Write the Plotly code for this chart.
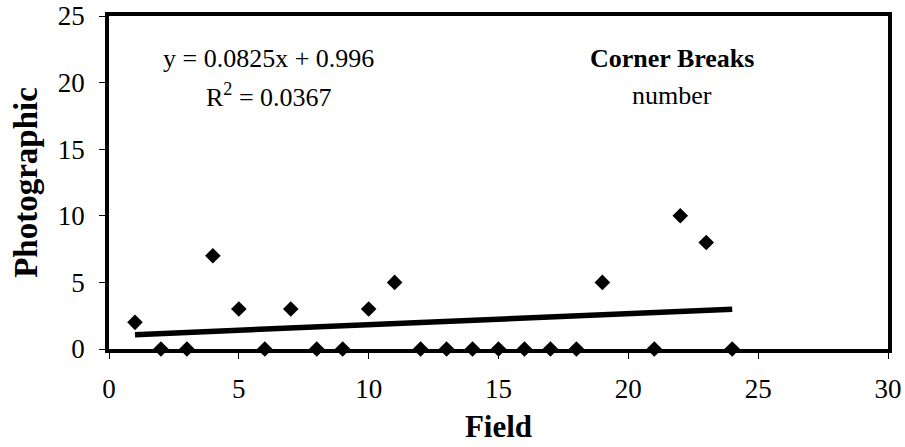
import numpy as np
import plotly.graph_objects as go

# Data
field = [1, 2, 3, 4, 5, 6, 7, 8, 9, 10, 11, 12, 13, 14, 15, 16, 17, 18, 19, 21, 22, 23, 24]
photographic = [2, 0, 0, 7, 3, 0, 3, 0, 0, 3, 5, 0, 0, 0, 0, 0, 0, 0, 5, 0, 10, 8, 0]

x_ticks = [0, 5, 10, 15, 20, 25, 30]
y_ticks = [0, 5, 10, 15, 20, 25]

eq_text = "y = 0.0825x + 0.996"
r2_text = "R<sup>2</sup> = 0.0367"
title_text = "<b>Corner Breaks</b>"
subtitle_text = "number"

# Linear trendline via least squares
slope, intercept = np.polyfit(field, photographic, 1)
trend_x = [min(field), max(field)]
trend_y = [slope * v + intercept for v in trend_x]

FONT = "Liberation Serif, Times New Roman, serif"

fig = go.Figure()
fig.add_trace(go.Scatter(
    x=trend_x, y=trend_y, mode="lines",
    line=dict(color="black", width=5.5),
    showlegend=False, hoverinfo="skip",
))
fig.add_trace(go.Scatter(
    x=field, y=photographic, mode="markers",
    marker=dict(symbol="diamond", size=12, color="black"),
    showlegend=False, cliponaxis=False,
))

fig.update_layout(
    width=905, height=447,
    margin=dict(l=109, r=17, t=16, b=98),
    paper_bgcolor="white", plot_bgcolor="white",
    font=dict(family=FONT, color="black", size=26),
    xaxis=dict(
        range=[0, 30], tickvals=x_ticks, ticktext=[str(v) for v in x_ticks],
        showgrid=False, zeroline=False, automargin=False,
        showline=True, linecolor="black", linewidth=3.5, mirror=True,
        ticks="outside", ticklen=6, tickwidth=1.2, tickcolor="black",
        ticklabelstandoff=7, ticklabeloverflow="allow",
        tickfont=dict(family=FONT, size=27),
        title=dict(text="<b>Field</b>", font=dict(family=FONT, size=31), standoff=13),
    ),
    yaxis=dict(
        range=[0, 25], tickvals=y_ticks, ticktext=[str(v) for v in y_ticks],
        showgrid=False, zeroline=False, automargin=False,
        showline=True, linecolor="black", linewidth=3.5, mirror=True,
        ticks="outside", ticklen=6, tickwidth=1.2, tickcolor="black",
        ticklabelstandoff=9, ticklabeloverflow="allow",
        tickfont=dict(family=FONT, size=27),
        title=dict(text="<b>Photographic</b>", font=dict(family=FONT, size=33), standoff=11),
    ),
    annotations=[
        dict(x=6.16, y=21.8, xref="x", yref="y", text=eq_text, showarrow=False,
             xanchor="center", yanchor="middle", font=dict(family=FONT, size=26)),
        dict(x=6.16, y=19.0, xref="x", yref="y", text=r2_text, showarrow=False,
             xanchor="center", yanchor="middle", font=dict(family=FONT, size=26)),
        dict(x=21.7, y=21.8, xref="x", yref="y", text=title_text, showarrow=False,
             xanchor="center", yanchor="middle", font=dict(family=FONT, size=26)),
        dict(x=21.7, y=19.0, xref="x", yref="y", text=subtitle_text, showarrow=False,
             xanchor="center", yanchor="middle", font=dict(family=FONT, size=26)),
    ],
)

# remove the default page margin so the 905x447 figure fills the window exactly
fig.write_html(
    "out.html",
    config={"displayModeBar": False},
    post_script="document.body.style.margin='0';document.body.style.overflow='hidden';",
)
